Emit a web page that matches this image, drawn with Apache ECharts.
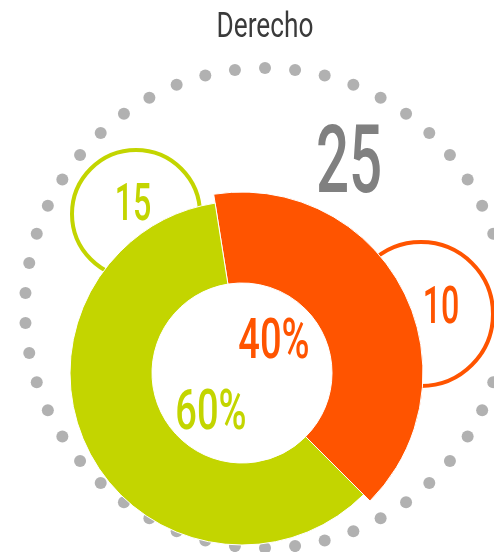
<!DOCTYPE html>
<html>
<head>
<meta charset="utf-8">
<script src="https://cdn.jsdelivr.net/npm/echarts@6/dist/echarts.min.js"></script>
<style>
  html, body { margin: 0; padding: 0; background: #fff; }
  #chart { width: 494px; height: 552px; }
</style>
</head>
<body>
<div id="chart"></div>
<script>
// data
const chartTitle = 'Derecho';
const categories = ['Grupo A', 'Grupo B'];
const values = [10, 15];
const colors = ['#ff5400', '#c3d500'];
const dotCount = 50;

const total = values.reduce(function (a, b) { return a + b; }, 0);
const percents = values.map(function (v) { return Math.round(v / total * 100) + '%'; });

// decorative dotted ring, evenly spaced
const ringDots = [];
for (let i = 0; i < dotCount; i++) {
  ringDots.push([1, i * 360 / dotCount]);
}

const font = 'Roboto, "DejaVu Sans Condensed", sans-serif';

function label(text, x, y, size, color, sx, weight) {
  return {
    type: 'text',
    x: x,
    y: y,
    scaleX: sx,
    z: 10,
    style: {
      text: text,
      x: 0,
      y: 0,
      fill: color,
      font: (weight || 'normal') + ' ' + size + 'px ' + font,
      align: 'center',
      verticalAlign: 'middle'
    }
  };
}

function ring(x, y, r, color) {
  return {
    type: 'circle',
    z: 1,
    shape: { cx: x, cy: y, r: r },
    style: { fill: '#fff', stroke: color, lineWidth: 4 }
  };
}

function slices(showIndex) {
  return categories.map(function (name, i) {
    const shown = i === showIndex;
    return {
      name: name,
      value: values[i],
      itemStyle: shown
        ? { color: colors[i], borderColor: '#fff', borderWidth: 1 }
        : { color: 'rgba(0,0,0,0)', borderWidth: 0 }
    };
  });
}

const chart = echarts.init(document.getElementById('chart'));
chart.setOption({
  animation: false,
  polar: { center: [265, 308], radius: 240 },
  angleAxis: { type: 'value', min: 0, max: 360, startAngle: 90, show: false },
  radiusAxis: { type: 'value', min: 0, max: 1, show: false },
  graphic: [
    ring(136, 214, 64, colors[1]),
    ring(421, 314, 72, colors[0]),
    label(chartTitle, 265, 28, 35, '#3a3a3a', 0.75),
    label(String(total), 349, 168, 94, '#808080', 0.62, 500),
    label(String(values[1]), 133, 207, 52, colors[1], 0.62, 500),
    label(String(values[0]), 441, 310, 52, colors[0], 0.62, 500),
    label(percents[0], 274, 344, 56, colors[0], 0.68, 500),
    label(percents[1], 211, 415, 56, colors[1], 0.68, 500)
  ],
  series: [
    {
      type: 'scatter',
      coordinateSystem: 'polar',
      symbolSize: 12,
      silent: true,
      z: 0,
      itemStyle: { color: '#9e9e9e' },
      data: ringDots
    },
    {
      type: 'pie',
      center: [242, 373],
      radius: [90, 181],
      startAngle: 99,
      silent: true,
      z: 3,
      label: { show: false },
      labelLine: { show: false },
      data: slices(0)
    },
    {
      type: 'pie',
      center: [242, 373],
      radius: [90, 172],
      startAngle: 99,
      silent: true,
      z: 3,
      label: { show: false },
      labelLine: { show: false },
      data: slices(1)
    }
  ]
});
</script>
</body>
</html>
